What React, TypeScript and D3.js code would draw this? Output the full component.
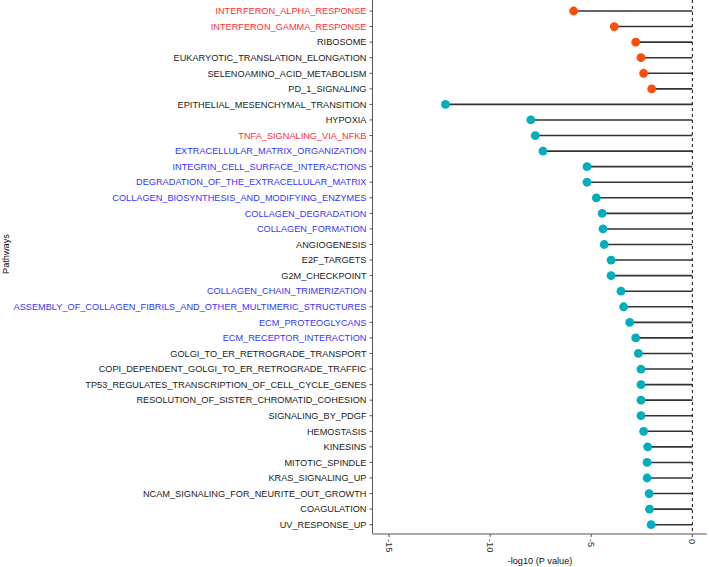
import React from "react";
import * as d3 from "d3";

const pathways = [
  "INTERFERON_ALPHA_RESPONSE",
  "INTERFERON_GAMMA_RESPONSE",
  "RIBOSOME",
  "EUKARYOTIC_TRANSLATION_ELONGATION",
  "SELENOAMINO_ACID_METABOLISM",
  "PD_1_SIGNALING",
  "EPITHELIAL_MESENCHYMAL_TRANSITION",
  "HYPOXIA",
  "TNFA_SIGNALING_VIA_NFKB",
  "EXTRACELLULAR_MATRIX_ORGANIZATION",
  "INTEGRIN_CELL_SURFACE_INTERACTIONS",
  "DEGRADATION_OF_THE_EXTRACELLULAR_MATRIX",
  "COLLAGEN_BIOSYNTHESIS_AND_MODIFYING_ENZYMES",
  "COLLAGEN_DEGRADATION",
  "COLLAGEN_FORMATION",
  "ANGIOGENESIS",
  "E2F_TARGETS",
  "G2M_CHECKPOINT",
  "COLLAGEN_CHAIN_TRIMERIZATION",
  "ASSEMBLY_OF_COLLAGEN_FIBRILS_AND_OTHER_MULTIMERIC_STRUCTURES",
  "ECM_PROTEOGLYCANS",
  "ECM_RECEPTOR_INTERACTION",
  "GOLGI_TO_ER_RETROGRADE_TRANSPORT",
  "COPI_DEPENDENT_GOLGI_TO_ER_RETROGRADE_TRAFFIC",
  "TP53_REGULATES_TRANSCRIPTION_OF_CELL_CYCLE_GENES",
  "RESOLUTION_OF_SISTER_CHROMATID_COHESION",
  "SIGNALING_BY_PDGF",
  "HEMOSTASIS",
  "KINESINS",
  "MITOTIC_SPINDLE",
  "KRAS_SIGNALING_UP",
  "NCAM_SIGNALING_FOR_NEURITE_OUT_GROWTH",
  "COAGULATION",
  "UV_RESPONSE_UP",
];

const values = [
  -5.87, -3.86, -2.8, -2.54, -2.41, -2.01, -12.21, -7.99, -7.77, -7.39,
  -5.21, -5.21, -4.75, -4.46, -4.42, -4.36, -4.02, -4.02, -3.53, -3.4,
  -3.1, -2.8, -2.67, -2.54, -2.54, -2.54, -2.54, -2.41, -2.21, -2.24,
  -2.24, -2.14, -2.12, -2.04,
];

// "up" = orange point, "down" = teal point
const direction = [
  "up", "up", "up", "up", "up", "up",
  "down", "down", "down", "down", "down", "down", "down", "down", "down", "down", "down",
  "down", "down", "down", "down", "down", "down", "down", "down", "down", "down", "down",
  "down", "down", "down", "down", "down", "down",
];

// label colour group: r = red, b = blue, k = black
const labelGroup = [
  "r", "r", "k", "k", "k", "k", "k", "k", "r", "b",
  "b", "b", "b", "b", "b", "k", "k", "k", "b", "b",
  "b", "b", "k", "k", "k", "k", "k", "k", "k", "k",
  "k", "k", "k", "k",
];

const xTicks = [-15, -10, -5, 0];

const W = 709;
const H = 567;
const axisLeft = 372.5;
const axisBottom = 534;

const pointColor: Record<string, string> = { up: "#FC4E07", down: "#00AFBB" };
const labelColor: Record<string, string> = { r: "#FF2D3A", b: "#3535FF", k: "#222222" };

export default function App() {
  const x = d3.scaleLinear().domain([-15.82, 0.71]).range([axisLeft, 706.7]);
  const y = d3.scalePoint<string>().domain(pathways).range([11, 524.7]);
  const font = "Arial, 'Liberation Sans', sans-serif";

  return (
    <svg
      width={W}
      height={H}
      style={{ position: "absolute", left: 0, top: 0, background: "#fff" }}
      fontFamily={font}
    >
      {/* segments */}
      {pathways.map((p, i) => (
        <line
          key={"s" + p}
          x1={x(values[i])}
          x2={x(0)}
          y1={y(p)}
          y2={y(p)}
          stroke="#333333"
          strokeWidth={1.6}
        />
      ))}
      {/* dashed zero line */}
      <line
        x1={x(0)}
        x2={x(0)}
        y1={0}
        y2={axisBottom}
        stroke="#111"
        strokeWidth={1}
        strokeDasharray="3,3"
      />
      {/* points */}
      {pathways.map((p, i) => (
        <circle
          key={"c" + p}
          cx={x(values[i])}
          cy={y(p)}
          r={4.4}
          fill={pointColor[direction[i]]}
        />
      ))}
      {/* y axis */}
      <line x1={axisLeft} x2={axisLeft} y1={0} y2={axisBottom} stroke="#555" strokeWidth={1} />
      {pathways.map((p, i) => (
        <g key={"t" + p} transform={`translate(0,${y(p)})`}>
          <line x1={axisLeft - 3} x2={axisLeft} y1={0} y2={0} stroke="#555" strokeWidth={1} />
          <text
            x={axisLeft - 6}
            y={0}
            dy="0.35em"
            textAnchor="end"
            fontSize={9.2}
            fill={labelColor[labelGroup[i]]}
          >
            {p}
          </text>
        </g>
      ))}
      {/* x axis */}
      <line x1={axisLeft} x2={706.7} y1={axisBottom} y2={axisBottom} stroke="#555" strokeWidth={1} />
      {xTicks.map((t) => (
        <g key={"x" + t} transform={`translate(${x(t)},${axisBottom})`}>
          <line y1={0} y2={3} stroke="#555" strokeWidth={1} />
          <text
            transform="translate(0,5) rotate(90)"
            dy="0.35em"
            textAnchor="start"
            fontSize={9.2}
            fill="#333"
          >
            {t}
          </text>
        </g>
      ))}
      <text x={540} y={564} textAnchor="middle" fontSize={9.2} fill="#111">
        -log10 (P value)
      </text>
      <text
        transform="translate(9,254) rotate(-90)"
        textAnchor="middle"
        fontSize={9.2}
        fill="#111"
      >
        Pathways
      </text>
    </svg>
  );
}
